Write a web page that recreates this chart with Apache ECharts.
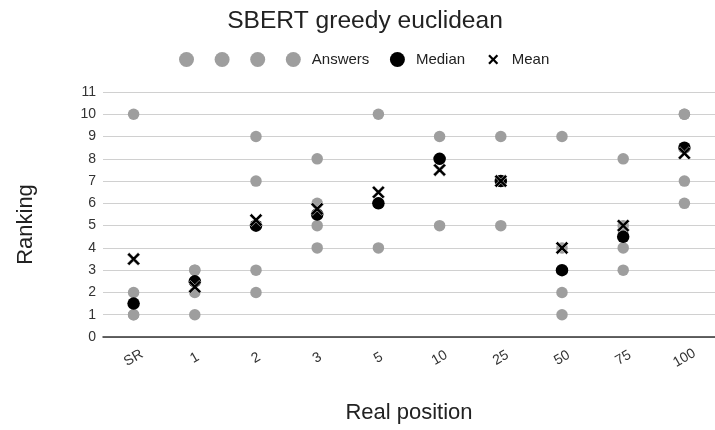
<!DOCTYPE html>
<html>
<head>
<meta charset="utf-8">
<script src="https://cdn.jsdelivr.net/npm/echarts@6/dist/echarts.min.js"></script>
<style>
  html, body { margin: 0; padding: 0; background: #fff; }
  #chart { width: 715px; height: 430px; }
</style>
</head>
<body>
<div id="chart"></div>
<script>
const categories = ['SR', '1', '2', '3', '5', '10', '25', '50', '75', '100'];
const answers1 = [10, 3, 9, 8, 10, 9, 9, 9, 8, 10];
const answers2 = [2, 3, 7, 6, 6, 8, 7, 4, 5, 10];
const answers3 = [1, 2, 3, 5, 6, 8, 7, 2, 4, 7];
const answers4 = [1, 1, 2, 4, 4, 5, 5, 1, 3, 6];
const median = [1.5, 2.5, 5, 5.5, 6, 8, 7, 3, 4.5, 8.5];
const mean = [3.5, 2.25, 5.25, 5.75, 6.5, 7.5, 7, 4, 5, 8.25];
const yTicks = { min: 0, max: 11, interval: 1 };

const FONT = '"Liberation Sans", Arial, sans-serif';
const GRAY = '#9e9e9e';
const X_SHAPE = 'M0,1.6 L1.6,0 L5,3.4 L8.4,0 L10,1.6 L6.6,5 L10,8.4 L8.4,10 L5,6.6 L1.6,10 L0,8.4 L3.4,5 Z';
const X_PATH = 'path://' + X_SHAPE;
// tiny corner specks widen the box so the legend X comes out smaller
const X_LEGEND = 'path://M-2.5,-2.5 L-2.47,-2.5 L-2.5,-2.47 Z M12.5,12.5 L12.47,12.5 L12.5,12.47 Z ' + X_SHAPE;

const chart = echarts.init(document.getElementById('chart'));

function answerSeries(name, data) {
  return {
    name,
    type: 'scatter',
    data,
    symbol: 'circle',
    symbolSize: 11.5,
    itemStyle: { color: GRAY, opacity: 1 },
    z: 2,
  };
}

const labelled = { padding: [0, 0, 0, 6] };

chart.setOption({
  animation: false,
  title: {
    text: 'SBERT greedy euclidean',
    left: 360,
    textAlign: 'center',
    top: 4,
    textStyle: { fontFamily: FONT, fontSize: 24.6, fontWeight: 'normal', color: '#222' },
  },
  legend: {
    left: 174,
    top: 47,
    itemWidth: 15,
    itemHeight: 15,
    itemGap: 20.6,
    formatter: name => (name.indexOf('Answers ') === 0 ? '' : name),
    textStyle: { fontFamily: FONT, fontSize: 15, color: '#222' },
    data: [
      { name: 'Answers A', icon: 'circle', textStyle: { padding: 0 } },
      { name: 'Answers B', icon: 'circle', textStyle: { padding: 0 } },
      { name: 'Answers C', icon: 'circle', textStyle: { padding: 0 } },
      { name: 'Answers', icon: 'circle', textStyle: labelled },
      { name: 'Median', icon: 'circle', textStyle: labelled },
      {
        name: 'Mean',
        icon: X_LEGEND,
        itemStyle: { color: '#000', borderWidth: 0, opacity: 1 },
        textStyle: labelled,
      },
    ],
  },
  grid: { left: 103, top: 92, width: 615, height: 245 },
  xAxis: {
    type: 'category',
    data: categories,
    boundaryGap: true,
    name: 'Real position',
    nameLocation: 'middle',
    nameGap: 65,
    nameTextStyle: { fontFamily: FONT, fontSize: 22, color: '#222' },
    axisLine: { lineStyle: { color: '#333', width: 1.5 } },
    axisTick: { show: false },
    axisLabel: {
      rotate: 30,
      align: 'center',
      verticalAlign: 'middle',
      margin: 21,
      fontFamily: FONT,
      fontSize: 14,
      color: '#333',
    },
  },
  yAxis: {
    type: 'value',
    min: yTicks.min,
    max: yTicks.max,
    interval: yTicks.interval,
    name: 'Ranking',
    nameLocation: 'middle',
    nameGap: 66,
    nameRotate: 90,
    nameTextStyle: { fontFamily: FONT, fontSize: 22, color: '#222', padding: [0, 20, 0, 0] },
    axisLine: { show: false },
    axisTick: { show: false },
    axisLabel: { margin: 7, fontFamily: FONT, fontSize: 14, color: '#333' },
    splitLine: { lineStyle: { color: '#d0d0d0', width: 1 } },
  },
  series: [
    answerSeries('Answers A', answers1),
    answerSeries('Answers B', answers2),
    answerSeries('Answers C', answers3),
    answerSeries('Answers', answers4),
    {
      name: 'Median',
      type: 'scatter',
      data: median,
      symbol: 'circle',
      symbolSize: 12.5,
      itemStyle: { color: '#000', opacity: 1 },
      z: 3,
    },
    {
      name: 'Mean',
      type: 'scatter',
      data: mean,
      symbol: X_PATH,
      symbolSize: 13,
      itemStyle: { color: '#000', borderColor: '#fff', borderWidth: 0.5, opacity: 1 },
      z: 4,
    },
  ],
});
</script>
</body>
</html>
